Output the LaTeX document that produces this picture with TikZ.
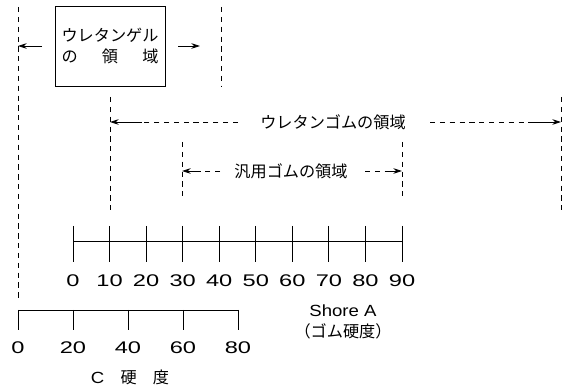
\documentclass[tikz,border=0pt]{standalone}
\usepackage{fontspec}
\setmainfont{Noto Sans CJK JP}
\newfontfamily\numfont[FakeStretch=1.4]{Liberation Sans}
\newfontfamily\latinfont[FakeStretch=1.15]{Liberation Sans}
\usetikzlibrary{arrows.meta}

\begin{document}
\begin{tikzpicture}[x=0.02cm,y=-0.02cm,
    every node/.style={font=\fontsize{9.2}{11.5}\selectfont,inner sep=0pt},
    num/.style={font=\fontsize{9.6}{11.5}\selectfont\numfont},
    guide/.style={dash pattern=on 3pt off 2.6pt,line width=0.5pt},
    span/.style={-{Stealth[length=5pt,width=3.2pt]},line width=0.5pt},
    scaleline/.style={line width=0.5pt}]
    \useasboundingbox (0,0) rectangle (575,388);
    % guide lines
    \coordinate (gl) at (18,7);   \coordinate (glb) at (18,300);
    \coordinate (gr) at (221,7);  \coordinate (grb) at (221,86);
    \coordinate (ul) at (110,97); \coordinate (ulb) at (110,213);
    \coordinate (ur) at (561,97); \coordinate (urb) at (561,213);
    \coordinate (hl) at (182,142);\coordinate (hlb) at (182,200);
    \coordinate (hr) at (402,142);\coordinate (hrb) at (402,200);
    \foreach \a/\b in {gl/glb,gr/grb,ul/ulb,ur/urb,hl/hlb,hr/hrb}
        \draw[guide] (\a) -- (\b);
    % gel box
    \node[draw,line width=0.5pt,minimum width=2.2cm,minimum height=1.6cm,align=center] (gel) at (110,46)
        {ウレタンゲル\\\makebox[6em][s]{の\hfill 領\hfill 域}};
    \coordinate (gela) at (42,46); \coordinate (gelb) at (178,46);
    \draw[span] (gela) -- (gl |- gela);
    \draw[span] (gelb) -- (200,46);
    % urethane rubber
    \node (urethane) at (333,122) {ウレタンゴムの領域};
    \coordinate (ua) at (142,122); \coordinate (ub) at (530,122);
    \draw[guide] (238,122) -- (ua);
    \draw[span] (ua) -- (ul |- ua);
    \draw[guide] (430,122) -- (ub);
    \draw[span] (ub) -- (ur |- ub);
    % general rubber
    \node (general) at (291,171) {汎用ゴムの領域};
    \coordinate (ha) at (200,171); \coordinate (hb) at (390,171);
    \draw[guide] (220,171) -- (ha);
    \draw[span] (ha) -- (hl |- ha);
    \draw[guide] (365,171) -- (hb);
    \draw[span] (hb) -- (hr |- hb);
    % Shore A scale
    \draw[scaleline] (73,241) -- (402,241);
    \foreach \v [count=\i from 0] in {0,10,...,90} {
        \draw[scaleline] ({73+36.56*\i},226) -- ({73+36.56*\i},262);
        \node[num] (a\i) at ({73+36.56*\i},281) {\v};
    }
    \node[align=center] (shore) at (343,322) {{\latinfont Shore A}\\（ゴム硬度）};
    % C scale
    \draw[scaleline] (18,310) -- (238,310);
    \foreach \v [count=\i from 0] in {0,20,...,80} {
        \draw[scaleline] ({18+55*\i},310) -- ({18+55*\i},330);
        \node[num] (c\i) at ({18+55*\i},348) {\v};
    }
    \node (chard) at (130,377) {{\latinfont C}\quad 硬\quad 度};
\end{tikzpicture}
\end{document}
